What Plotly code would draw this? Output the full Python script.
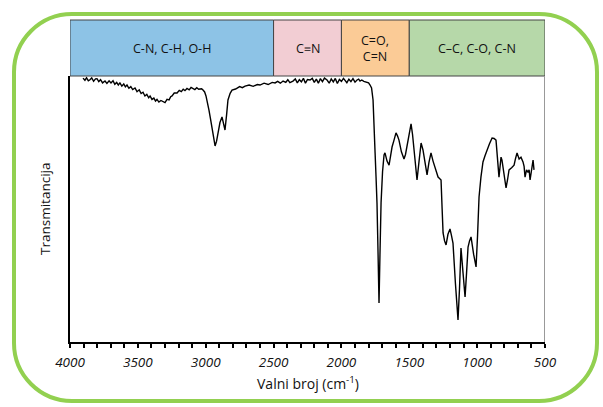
import plotly.graph_objects as go

# ---- data ----
wavenumber = [3904, 3890, 3878, 3865, 3853, 3840, 3826, 3812, 3801, 3788, 3775, 3760, 3742,
              3728, 3712, 3698, 3683, 3670, 3656, 3644, 3632, 3618, 3604, 3592, 3580, 3566,
              3552, 3538, 3521, 3506, 3490, 3476, 3462, 3448, 3434, 3420, 3410, 3396, 3382,
              3370, 3359, 3345, 3330, 3315, 3300, 3285, 3270, 3258, 3248, 3232, 3211, 3195,
              3180, 3166, 3153, 3138, 3122, 3108, 3094, 3080, 3066, 3052, 3042, 3030, 3020,
              3008, 2998, 2986, 2976, 2965, 2954, 2942, 2931, 2920, 2909, 2895, 2880, 2868,
              2858, 2846, 2836, 2820, 2806, 2780, 2750, 2730, 2710, 2680, 2650, 2620, 2600,
              2570, 2540, 2510, 2489, 2470, 2450, 2430, 2410, 2395, 2380, 2357, 2340, 2325,
              2310, 2295, 2280, 2265, 2250, 2231, 2215, 2200, 2185, 2170, 2155, 2140, 2125,
              2106, 2090, 2075, 2060, 2045, 2030, 2015, 2000, 1985, 1973, 1960, 1945, 1930,
              1915, 1900, 1885, 1873, 1863, 1850, 1835, 1819, 1800, 1789, 1778, 1767, 1760,
              1752, 1745, 1738, 1730, 1723, 1716, 1708, 1697, 1686, 1679, 1664, 1649, 1638,
              1627, 1612, 1598, 1587, 1576, 1558, 1539, 1528, 1517, 1502, 1487, 1476, 1465,
              1454, 1443, 1428, 1413, 1399, 1384, 1369, 1355, 1340, 1325, 1310, 1299, 1288,
              1277, 1266, 1258, 1251, 1240, 1229, 1215, 1200, 1189, 1178, 1160, 1150, 1141,
              1130, 1119, 1104, 1089, 1078, 1067, 1056, 1045, 1026, 1008, 997, 986, 972, 957,
              942, 927, 909, 890, 875, 861, 850, 839, 831, 824, 817, 802, 787, 776, 765, 746,
              728, 717, 706, 691, 677, 662, 654, 647, 636, 625, 617, 610, 599, 588, 581]

transmittance = [99.2, 98.4, 99.3, 98.2, 98.6, 99.3, 98.0, 98.9, 99.0, 97.9, 98.6, 97.4, 98.1,
                 97.2, 98.2, 97.4, 98.2, 96.9, 97.6, 96.6, 97.4, 96.2, 97.0, 95.9, 96.6, 95.4,
                 96.0, 94.9, 95.5, 94.1, 94.8, 93.4, 93.9, 92.5, 93.1, 91.8, 92.5, 91.2, 91.7,
                 90.6, 91.2, 90.2, 90.8, 90.4, 90.0, 91.2, 91.0, 92.2, 92.5, 93.6, 93.6, 94.6,
                 94.1, 95.0, 94.5, 95.3, 94.8, 95.7, 95.4, 94.9, 95.6, 95.0, 95.1, 95.2, 94.7,
                 94.0, 92.5, 90.0, 87.2, 84.0, 80.8, 76.5, 73.7, 75.5, 78.6, 82.5, 84.6, 82.0,
                 79.7, 85.5, 91.0, 93.5, 94.7, 95.1, 96.0, 95.6, 96.2, 96.6, 96.1, 96.8, 96.6,
                 97.3, 96.8, 97.6, 97.4, 98.0, 97.3, 98.1, 97.6, 98.6, 97.5, 98.1, 98.9, 97.4,
                 98.6, 97.8, 99.1, 97.3, 98.7, 98.5, 99.1, 97.6, 98.8, 97.3, 99.0, 97.9, 99.2,
                 98.5, 97.3, 98.9, 97.8, 99.1, 97.2, 98.7, 98.0, 99.1, 98.5, 97.5, 98.8, 97.9,
                 99.0, 97.7, 98.5, 98.8, 98.1, 98.5, 98.0, 97.7, 97.4, 96.6, 95.5, 91.0, 84.0,
                 71.1, 62.0, 52.3, 33.0, 14.7, 33.0, 52.3, 64.0, 70.3, 71.1, 68.0, 66.5, 70.0,
                 73.3, 76.0, 78.6, 77.5, 75.9, 71.5, 68.8, 70.5, 73.3, 78.0, 82.0, 78.0, 72.2,
                 66.0, 60.9, 68.0, 74.8, 72.2, 67.0, 62.8, 67.5, 71.1, 68.0, 65.8, 63.5, 62.0,
                 61.5, 60.9, 50.0, 41.0, 38.0, 36.5, 40.5, 42.5, 40.0, 37.2, 22.0, 13.0, 8.3,
                 20.0, 35.3, 26.0, 16.9, 26.0, 35.7, 38.0, 39.5, 33.0, 28.2, 40.0, 54.5, 62.0,
                 67.7, 70.0, 72.2, 74.5, 76.7, 76.5, 75.9, 70.0, 62.0, 66.0, 69.5, 68.4, 63.0,
                 57.9, 61.0, 64.7, 65.5, 66.5, 69.0, 71.1, 68.8, 69.5, 67.7, 66.0, 62.0, 64.7,
                 63.8, 64.7, 60.9, 64.0, 68.4, 64.7]

region_labels = ["C-N, C-H, O-H", "C\u2261N", "C=O,<br>C=N", "C\u2013C, C-O, C-N"]
region_starts = [4000, 2500, 2000, 1500]
region_ends = [2500, 2000, 1500, 500]
region_colors = ["#8DC3E6", "#F2CDD3", "#FBCB96", "#B6D8A9"]

x_ticks = [4000, 3500, 3000, 2500, 2000, 1500, 1000, 500]

# ---- layout geometry (pixels) ----
W, H = 603, 407
L, R, T, B = 70, 58, 76, 65
PW, PH = W - L - R, H - T - B


def px(p):
    return (p - L) / PW


def py(p):
    return (H - B - p) / PH


fig = go.Figure()
fig.add_trace(go.Scatter(x=wavenumber, y=transmittance, mode="lines",
                         line=dict(color="black", width=1.4), hoverinfo="skip",
                         showlegend=False))

shapes = []
annotations = []
box_top = 1 + (T - 20) / PH
for lab, s, e, c in zip(region_labels, region_starts, region_ends, region_colors):
    shapes.append(dict(type="rect", xref="x", yref="paper", x0=s, x1=e, y0=1, y1=box_top,
                       fillcolor=c, line=dict(color="#444444", width=1), layer="above"))
    annotations.append(dict(x=(s + e) / 2, y=(1 + box_top) / 2, xref="x", yref="paper",
                            xanchor="center", yanchor="middle",
                            text=lab, showarrow=False,
                            font=dict(family="Open Sans", size=12.5, color="#111111")))

# right gray border of plot
shapes.append(dict(type="line", xref="x", yref="paper", x0=500, x1=500, y0=0, y1=1,
                   line=dict(color="#999999", width=2)))

# rounded green frame
x0, x1 = px(14), px(597)
yt, yb = py(14), py(401)
r = 58
rx, ry = r / PW, r / PH
k = 0.5523
path = (f"M {x0+rx},{yt} L {x1-rx},{yt} "
        f"C {x1-rx+k*rx},{yt} {x1},{yt-ry+k*ry} {x1},{yt-ry} "
        f"L {x1},{yb+ry} "
        f"C {x1},{yb+ry-k*ry} {x1-rx+k*rx},{yb} {x1-rx},{yb} "
        f"L {x0+rx},{yb} "
        f"C {x0+rx-k*rx},{yb} {x0},{yb+ry-k*ry} {x0},{yb+ry} "
        f"L {x0},{yt-ry} "
        f"C {x0},{yt-ry+k*ry} {x0+rx-k*rx},{yt} {x0+rx},{yt} Z")
shapes.append(dict(type="path", xref="paper", yref="paper", path=path,
                   line=dict(color="#92D050", width=4)))

annotations.append(dict(x=px(45), y=0.5, xref="paper", yref="paper",
                        xanchor="center", yanchor="middle",
                        text="Transmitancija", textangle=-90, showarrow=False,
                        font=dict(family="Open Sans", size=13.5, color="#111111")))
annotations.append(dict(x=0.5, y=py(383), xref="paper", yref="paper",
                        xanchor="center", yanchor="middle",
                        text="Valni broj (cm<sup>-1</sup>)", showarrow=False,
                        font=dict(family="Open Sans", size=14, color="#111111")))

fig.update_layout(
    width=W, height=H,
    margin=dict(l=L, r=R, t=T, b=B, autoexpand=False),
    paper_bgcolor="white", plot_bgcolor="white",
    shapes=shapes, annotations=annotations,
    xaxis=dict(range=[4000, 500], tickvals=x_ticks, ticks="outside", ticklen=4,
               tickwidth=1.5, tickcolor="black", showline=True, linecolor="black",
               linewidth=2, showgrid=False, zeroline=False, ticklabelstandoff=3,
               automargin=False,
               minor=dict(dtick=100, ticks="outside", ticklen=4, tickwidth=1.5,
                          tickcolor="black", showgrid=False),
               tickfont=dict(family="Open Sans", size=13.5, color="#111111",
                             style="italic")),
    yaxis=dict(range=[0, 100], showticklabels=False, ticks="", showline=True,
               automargin=False,
               linecolor="black", linewidth=2, showgrid=False, zeroline=False),
)

fig.write_html("out.html", config={"displayModeBar": False},
               post_script="document.body.style.margin='0';document.body.style.overflow='hidden';")
